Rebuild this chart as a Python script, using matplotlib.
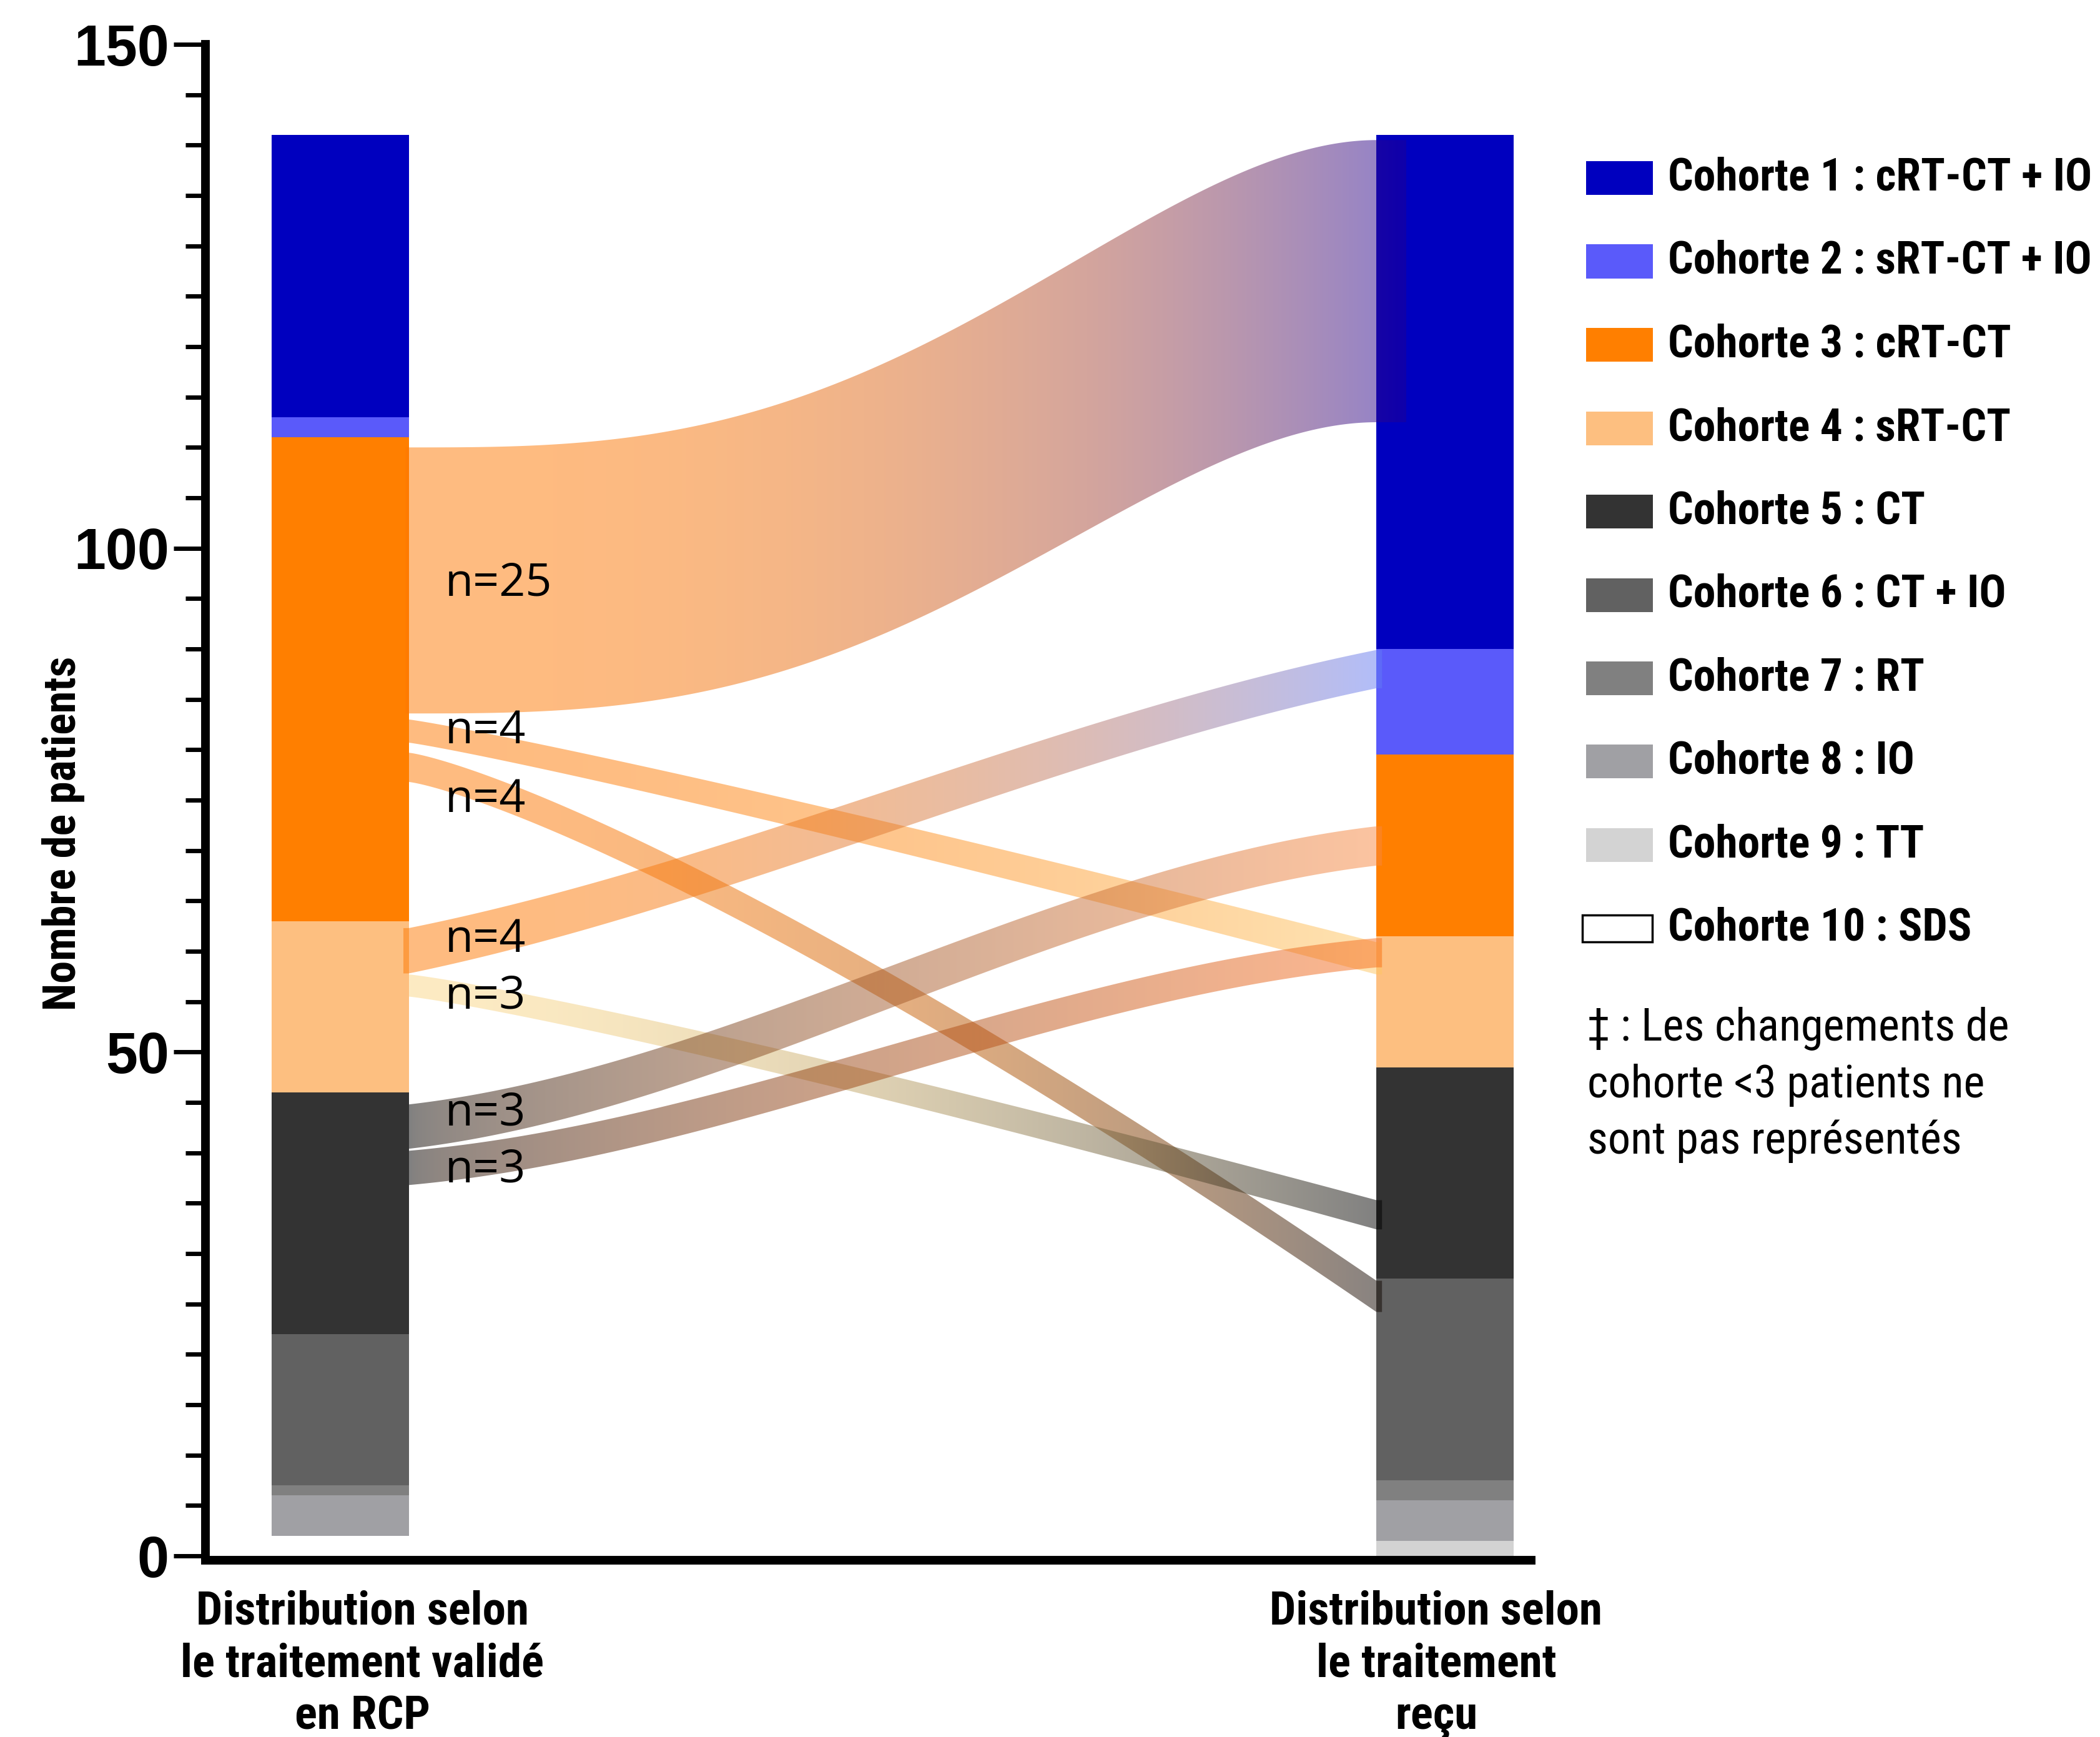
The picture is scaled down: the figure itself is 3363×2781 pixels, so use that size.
import numpy as np
import matplotlib
matplotlib.use("Agg")
import matplotlib.pyplot as plt
from matplotlib import font_manager as fm
from matplotlib.patches import Rectangle, PathPatch
from matplotlib.path import Path

# ---------------- data ----------------
cohort_labels = [
    "Cohorte 1 : cRT-CT + IO", "Cohorte 2 : sRT-CT + IO", "Cohorte 3 : cRT-CT",
    "Cohorte 4 : sRT-CT", "Cohorte 5 : CT", "Cohorte 6 : CT + IO",
    "Cohorte 7 : RT", "Cohorte 8 : IO", "Cohorte 9 : TT", "Cohorte 10 : SDS",
]
cohort_colors = ["#0000BF", "#5A5AFA", "#FF7F00", "#FDBF80", "#333333",
                 "#616161", "#808080", "#A0A0A4", "#D3D3D3", "#FFFFFF"]
# patients per cohort (cohorte 1..10)
counts_rcp = [28, 2, 48, 17, 24, 15, 1, 4, 0, 2]
counts_recu = [51, 10.5, 18, 13, 21, 20, 2, 4, 1.5, 0]
# stacking order, bottom -> top (cohort index)
stack_order = [9, 8, 7, 6, 5, 4, 3, 2, 1, 0]

group_labels = ["Distribution selon\nle traitement validé\nen RCP",
                "Distribution selon\nle traitement\nreçu"]

# flows (changes of cohort >= 3 patients)
flow_src = [3, 3, 3, 4, 4, 5, 5]
flow_dst = [1, 4, 6, 2, 5, 3, 4]
flow_n = [25, 4, 4, 4, 3, 3, 3]
flow_src_top = [110.0, 83.0, 79.7, 62.3, 57.7, 44.8, 40.2]
flow_src_bot = [83.6, 80.7, 76.8, 57.8, 55.5, 40.4, 36.8]
flow_dst_top = [140.5, 60.9, 27.3, 89.9, 35.3, 72.4, 61.3]
flow_dst_bot = [112.5, 57.7, 24.2, 86.1, 32.4, 68.5, 58.4]
flow_label_y = [96.5, 81.8, 75.0, 61.1, 55.5, 43.9, 38.3]

footnote = "\u2021 : Les changements de\ncohorte <3 patients ne\nsont pas représentés"

# ---------------- styles ----------------
flow_shape = [(1.5, 1.0), (1.1, 0.0), (1.25, 0.0), (1.0, 0.3), (1.15, 0.0), (1.0, 0.6), (1.0, 0.6)]
flow_grad = [
    ((255, 120, 0), (30, 0, 150), 2.5),
    ((255, 120, 0), (253, 200, 100), 1.9),
    ((255, 120, 0), (15, 5, 0), 2.2),
    ((255, 120, 0), (100, 125, 245), 2.2),
    ((251, 215, 135), (0, 0, 0), 1.9),
    ((0, 0, 0), (249, 137, 65), 0.6),
    ((0, 0, 0), (249, 110, 30), 0.6),
]
# how far each ribbon reaches into the bars (axis units)
flow_overlap_left = [0.003, 0.0, 0.0, 0.005, 0.0, 0.0, 0.0]
flow_overlap_right = [0.027, 0.005, 0.005, 0.005, 0.005, 0.005, 0.005]

avail = {f.name for f in fm.fontManager.ttflist}
NARROW = None
for cand in ["Liberation Sans Narrow", "Arial Narrow", "Roboto Condensed"]:
    if cand in avail:
        NARROW = cand
        break


def nfont(size, weight="bold"):
    if NARROW:
        return dict(family=[NARROW, "DejaVu Sans"], size=size, weight=weight)
    return dict(family=["Liberation Sans", "DejaVu Sans"], size=size * 0.82, weight=weight)


W, H = 3363, 2781
fig = plt.figure(figsize=(W / 100, H / 100), dpi=100)
fig.patch.set_facecolor("white")


def fx(px):
    return px / W


def fy(py):
    return 1 - py / H


ax = fig.add_axes([fx(329), fy(2491), fx(2452) - fx(329), fy(71) - fy(2491)])

bar_x = [0.0, 1.0]
bar_w = 0.124

# bars
for xi, counts in zip(bar_x, [counts_rcp, counts_recu]):
    bottom = 0.0
    for ci in stack_order:
        v = counts[ci]
        if v > 0:
            ax.bar(xi, v, bottom=bottom, width=bar_w, color=cohort_colors[ci],
                   edgecolor="none", linewidth=0, zorder=2)
        bottom += v


def ease(t, p, s):
    u = t ** p
    return (1 - s) * u + s * (u * u * (3 - 2 * u))


xl = bar_x[0] + bar_w / 2
xr = bar_x[1] - bar_w / 2

for i in range(len(flow_n)):
    xs = np.linspace(xl - flow_overlap_left[i], xr + flow_overlap_right[i], 500)
    tt = np.clip((xs - xl) / (xr - xl), 0, 1)
    p, s = flow_shape[i]
    f = ease(tt, p, s)
    top = flow_src_top[i] + (flow_dst_top[i] - flow_src_top[i]) * f
    bot = flow_src_bot[i] + (flow_dst_bot[i] - flow_src_bot[i]) * f
    verts = np.vstack([np.column_stack([xs, top]), np.column_stack([xs[::-1], bot[::-1]]),
                       [[xs[0], top[0]]]])
    codes = [Path.MOVETO] + [Path.LINETO] * (len(verts) - 2) + [Path.CLOSEPOLY]
    patch = PathPatch(Path(verts, codes), facecolor="none", edgecolor="none",
                      transform=ax.transData)
    c0, c1, q = flow_grad[i]
    tc = np.linspace(0, 1, 512)
    w = tc ** q
    rgb = (1 - w)[:, None] * np.array(c0) + w[:, None] * np.array(c1)
    img = np.ones((1, 512, 4))
    img[0, :, :3] = rgb / 255.0
    ymin = min(top.min(), bot.min()) - 1
    ymax = max(top.max(), bot.max()) + 1
    im = ax.imshow(img, extent=[xs[0], xs[-1], ymin, ymax], aspect="auto",
                   origin="lower", interpolation="bilinear", alpha=0.5, zorder=3)
    im.set_clip_path(patch)
    ax.text(0.095, flow_label_y[i], f"n={flow_n[i]}", ha="left", va="center",
            family=["Open Sans", "DejaVu Sans"], fontsize=53, zorder=5)

ax.set_xlim(-0.1221, 1.078)
ax.set_ylim(0, 150)
ax.set_aspect("auto")

for sp in ["top", "right"]:
    ax.spines[sp].set_visible(False)
for sp in ["left", "bottom"]:
    ax.spines[sp].set_linewidth(10)
    ax.spines[sp].set_color("black")
ax.spines["bottom"].set_position(("outward", 5))
ax.spines["left"].set_capstyle("projecting")

ax.set_yticks([0, 50, 100, 150])
ax.set_yticks(np.arange(0, 151, 5), minor=True)
ax.tick_params(axis="y", which="major", length=37, width=5, direction="out", pad=5)
ax.tick_params(axis="y", which="minor", length=23, width=5, direction="out")
for lab in ax.get_yticklabels():
    lab.set_fontfamily(["Liberation Sans", "DejaVu Sans"])
    lab.set_fontweight("bold")
    lab.set_fontsize(66)
ax.set_xticks([])

label_x = [0.02, 0.992]
for xi, lab in zip(label_x, group_labels):
    ax.text(xi, -0.0227, lab, transform=ax.get_xaxis_transform(), ha="center", va="top",
            linespacing=1.25, **nfont(54))

fig.text(fx(102), fy(1334), "Nombre de patients", rotation=90, ha="center", va="center",
         **nfont(52))

# legend
for i, (lab, col) in enumerate(zip(cohort_labels, cohort_colors)):
    yc = 285 + 133.5 * i
    if col.upper() == "#FFFFFF":
        rect = Rectangle((fx(2534), fy(yc + 22)), fx(2646) - fx(2534), fy(yc - 22) - fy(yc + 22),
                         transform=fig.transFigure, facecolor="white", edgecolor="black",
                         linewidth=2.5)
    else:
        rect = Rectangle((fx(2540), fy(yc + 27)), fx(2647) - fx(2540), fy(yc - 27) - fy(yc + 27),
                         transform=fig.transFigure, facecolor=col, edgecolor="none")
    fig.add_artist(rect)
    fig.text(fx(2671), fy(yc), lab, ha="left", va="center", **nfont(51.5))

fig.text(fx(2542), fy(1612), footnote, ha="left", va="top", linespacing=1.38,
         **nfont(52, weight="normal"))

fig.savefig("out.png", dpi=100, facecolor="white")
